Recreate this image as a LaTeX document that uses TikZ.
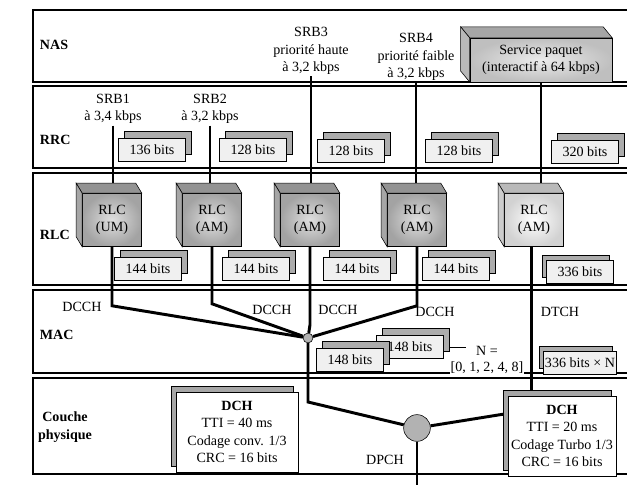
\documentclass[tikz,border=0pt]{standalone}
\usepackage{fontspec}
\setmainfont{Liberation Serif}
\usetikzlibrary{shadows,backgrounds}

\begin{document}
\begin{tikzpicture}[x=0.025cm,y=-0.025cm,
  font=\fontsize{10}{12.5}\selectfont,
  band/.style={line width=1.1pt},
  tag/.style={anchor=west,font=\fontsize{10}{12.5}\selectfont\bfseries},
  lbl/.style={align=center,inner sep=1pt},
  bitsbase/.style={draw,fill=gray!12,inner sep=1pt,minimum width=48pt,minimum height=16pt},
  bits/.style={bitsbase,copy shadow={draw,fill=gray!65,shadow xshift=4pt,shadow yshift=5pt}},
  bitsl/.style={bitsbase,copy shadow={draw,fill=gray!65,shadow xshift=-3pt,shadow yshift=4pt}},
  rlc/.style={draw,align=center,minimum width=42pt,minimum height=37.7pt,inner color=gray!25,outer color=gray!72},
  dchbox/.style={draw,fill=white,align=center,inner sep=2pt,minimum height=57pt,
    copy shadow={draw,fill=gray!70,shadow xshift=-3.5pt,shadow yshift=4.3pt}},
  link/.style={line width=2.1pt},
  hub/.style={circle,draw,fill=gray!60,inner sep=0pt}]
  \useasboundingbox (0,0) rectangle (627,485);
  \foreach \t/\b in {10/82,86/168,173/285,290/373,378/474}
    \draw[band] (33,\t) rectangle (640,\b);
  \node[tag] (nas) at (35,45) {NAS};
  \node[tag] (rrc) at (35,140) {RRC};
  \node[tag] (rlcl) at (35,235) {RLC};
  \node[tag] (mac) at (35,335) {MAC};
  \node[tag,align=center,anchor=center] (phys) at (65,427) {Couche\\physique};
  % radio bearers
  \node[lbl] (srb1) at (113,109) {SRB1\\à 3,4 kbps};
  \node[lbl] (srb2) at (210,109) {SRB2\\à 3,2 kbps};
  \node[lbl] (srb3) at (311,51) {SRB3\\priorité haute\\à 3,2 kbps};
  \node[lbl] (srb4) at (416,57) {SRB4\\priorité faible\\à 3,2 kbps};
  \node[draw,align=center,minimum width=101pt,minimum height=31pt,inner color=gray!15,outer color=gray!50] (svc) at (541,60) {Service paquet\\(interactif à 64 kbps)};
  \node[bits] (r1) at (152,150) {136 bits};
  \node[bits] (r2) at (253,150) {128 bits};
  \node[bits] (r3) at (351,151) {128 bits};
  \node[bits] (r4) at (459,151) {128 bits};
  \node[bits] (r5) at (585,152) {320 bits};
  % RLC entities
  \node[rlc] (c1) at (112,220) {RLC\\(UM)};
  \node[rlc] (c2) at (212,220) {RLC\\(AM)};
  \node[rlc] (c3) at (310,220) {RLC\\(AM)};
  \node[rlc] (c4) at (417,220) {RLC\\(AM)};
  \node[rlc,inner color=white,outer color=gray!35] (c5) at (534,220) {RLC\\(AM)};
  \foreach \c/\dx/\dy/\f/\s in {c1/-6/-10/85/70,c2/-6/-10/85/70,c3/-6/-10/85/70,c4/-6/-10/85/70,c5/-6/-10/55/40,svc/-9/-11/70/55} {
    \filldraw[fill=gray!\f] (\c.north west) -- (\c.north east) -- ++(\dx,\dy) -- ([shift={(\dx,\dy)}]\c.north west) -- cycle;
    \filldraw[fill=gray!\s] (\c.north west) -- ([shift={(\dx,\dy)}]\c.north west) -- ([shift={(\dx,\dy)}]\c.south west) -- (\c.south west) -- cycle;
  }
  \node[bits] (l1) at (148,269) {144 bits};
  \node[bits] (l2) at (256,269) {144 bits};
  \node[bits] (l3) at (357,269) {144 bits};
  \node[bits] (l4) at (456,269) {144 bits};
  \node[bitsl] (l5) at (580,272) {336 bits};
  % MAC
  \foreach \x/\y [count=\i] in {82/307,272/310,338/310,435/312}
    \node (dcch\i) at (\x,\y) {DCCH};
  \node (dtch) at (560,312) {DTCH};
  \node[bits] (m2) at (410,347) {148 bits};
  \node[bits] (m1) at (350,360) {148 bits};
  \node[bitsl] (mn) at (580,363) {336 bits × N};
  \node[inner sep=1pt] (nlbl) at (487,351) {N =};
  \node[fill=white,inner sep=0.5pt] (nset) at (487,368) {[0, 1, 2, 4, 8]};
  \node[hub,minimum size=7pt] (mux) at (308,338) {};
  % physical layer
  \node[dchbox,minimum width=87pt] (dch1) at (237,432) {\textbf{DCH}\\TTI = 40 ms\\Codage conv. 1/3\\CRC = 16 bits};
  \node[dchbox,minimum width=77pt] (dch2) at (562,436) {\textbf{DCH}\\TTI = 20 ms\\Codage Turbo 1/3\\CRC = 16 bits};
  \node[hub,minimum size=19pt] (phy) at (417,428) {};
  \node (dpch) at (385,460) {DPCH};
  \coordinate (out) at (417,495);
  \begin{pgfonlayer}{background}
    \draw[link] (srb1.south) -- (srb1.south |- c1.north);
    \draw[link] (srb2.south) -- (srb2.south |- c2.north);
    \draw[link] (srb3.south) -- (srb3.south |- c3.north);
    \draw[link] (srb4.south) -- (srb4.south |- c4.north);
    \draw[link] (svc.south) -- (svc.south |- c5.north);
    \draw[link] (c1.south) -- ++(0,59) -- (mux);
    \draw[link] (c2.south) -- ++(0,57) -- (mux);
    \draw[link] (c3.south) -- ++(0,78) -- (mux);
    \draw[link] (c4.south) -- ++(0,59) -- (mux);
    \draw[link] (mux) -- ++(0,64) -- (phy);
    \draw[link] (phy) -- ([yshift=16pt]dch2.west);
    \draw[link] (phy) -- (out);
    \draw[link] ([xshift=-2pt]c5.south) -- ([xshift=-2pt]c5.south |- dch2.north);
    \draw (m2.east) -- ++(22,0);
  \end{pgfonlayer}
\end{tikzpicture}
\end{document}
